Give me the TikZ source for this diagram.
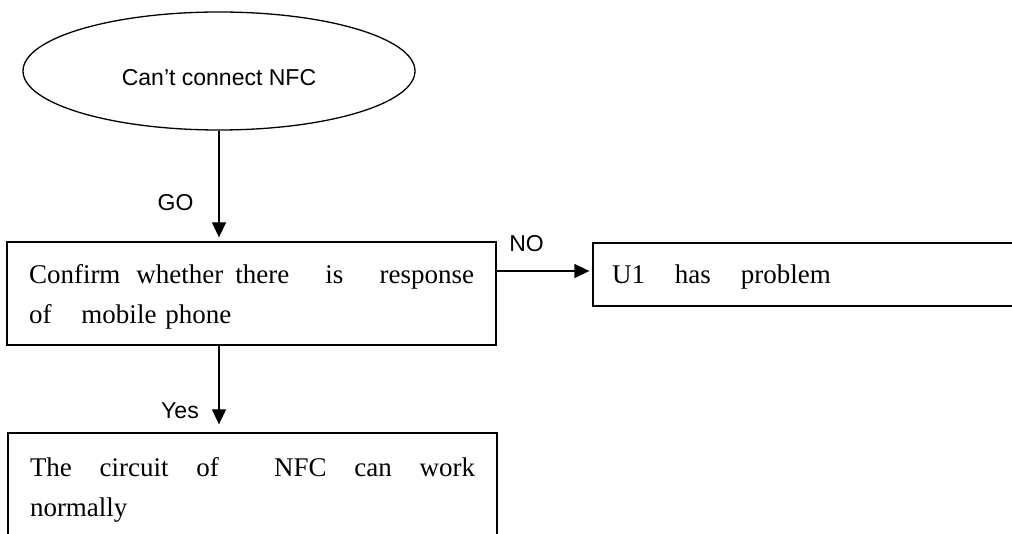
\documentclass[tikz,border=0pt]{standalone}
\usepackage{fontspec}
\setmainfont{Liberation Serif}
\newfontfamily\labelfont{Liberation Sans}
\usetikzlibrary{arrows.meta,shapes.geometric}

\begin{document}
\begin{tikzpicture}[x=1pt,y=-1pt,>={Triangle[length=15pt,width=14pt]},line width=1.3pt,
  box/.style={draw,rectangle,inner xsep=0pt,inner ysep=0pt,align=left,font=\fontsize{27}{40}\selectfont},
  lbl/.style={font=\labelfont\fontsize{23}{28}\selectfont,anchor=base}]
\useasboundingbox (0,0) rectangle (1012,534);
\clip (0,0) rectangle (1012,534);
\node[draw,ellipse,minimum width=392pt,minimum height=118pt,inner sep=0pt,font=\labelfont\fontsize{23}{28}\selectfont,text height=30pt,text depth=0pt] (s) at (219,71) {Can’t connect NFC};
\node[box,text width=445pt,minimum width=489pt,minimum height=103pt] (q) at (251.5,293.5) {\rule{0pt}{25pt}Confirm\hspace{16pt}whether\hspace{12pt}there\hfill is\hfill response\\of\hspace{30pt}mobile phone};
\node[box,text width=420pt,inner xsep=19pt,minimum height=63pt,text height=24pt,text depth=5pt] (u) at (822,274.5) {U1\hspace{30pt}has\hspace{30pt}problem};
\node[box,text width=445pt,minimum width=489pt,minimum height=107pt] (n) at (252.5,486.5) {\rule{0pt}{25pt}The\hfill circuit\hfill of\hfill\hfill NFC\hfill can\hfill work\\normally};
\coordinate (nt) at ([yshift=3.5pt]u.west);
\draw[->,shorten >=4pt] (s.south) -- (s.south |- q.north);
\draw[->,shorten >=3pt] (q.east |- nt) -- (nt);
\draw[->,shorten >=8pt] (s.south |- q.south) -- (s.south |- n.north);
\node[lbl] (go) at (175.5,211) {GO};
\node[lbl] (no) at (526.5,252) {NO};
\node[lbl] (yes) at (180,418) {Yes};
\end{tikzpicture}
\end{document}
